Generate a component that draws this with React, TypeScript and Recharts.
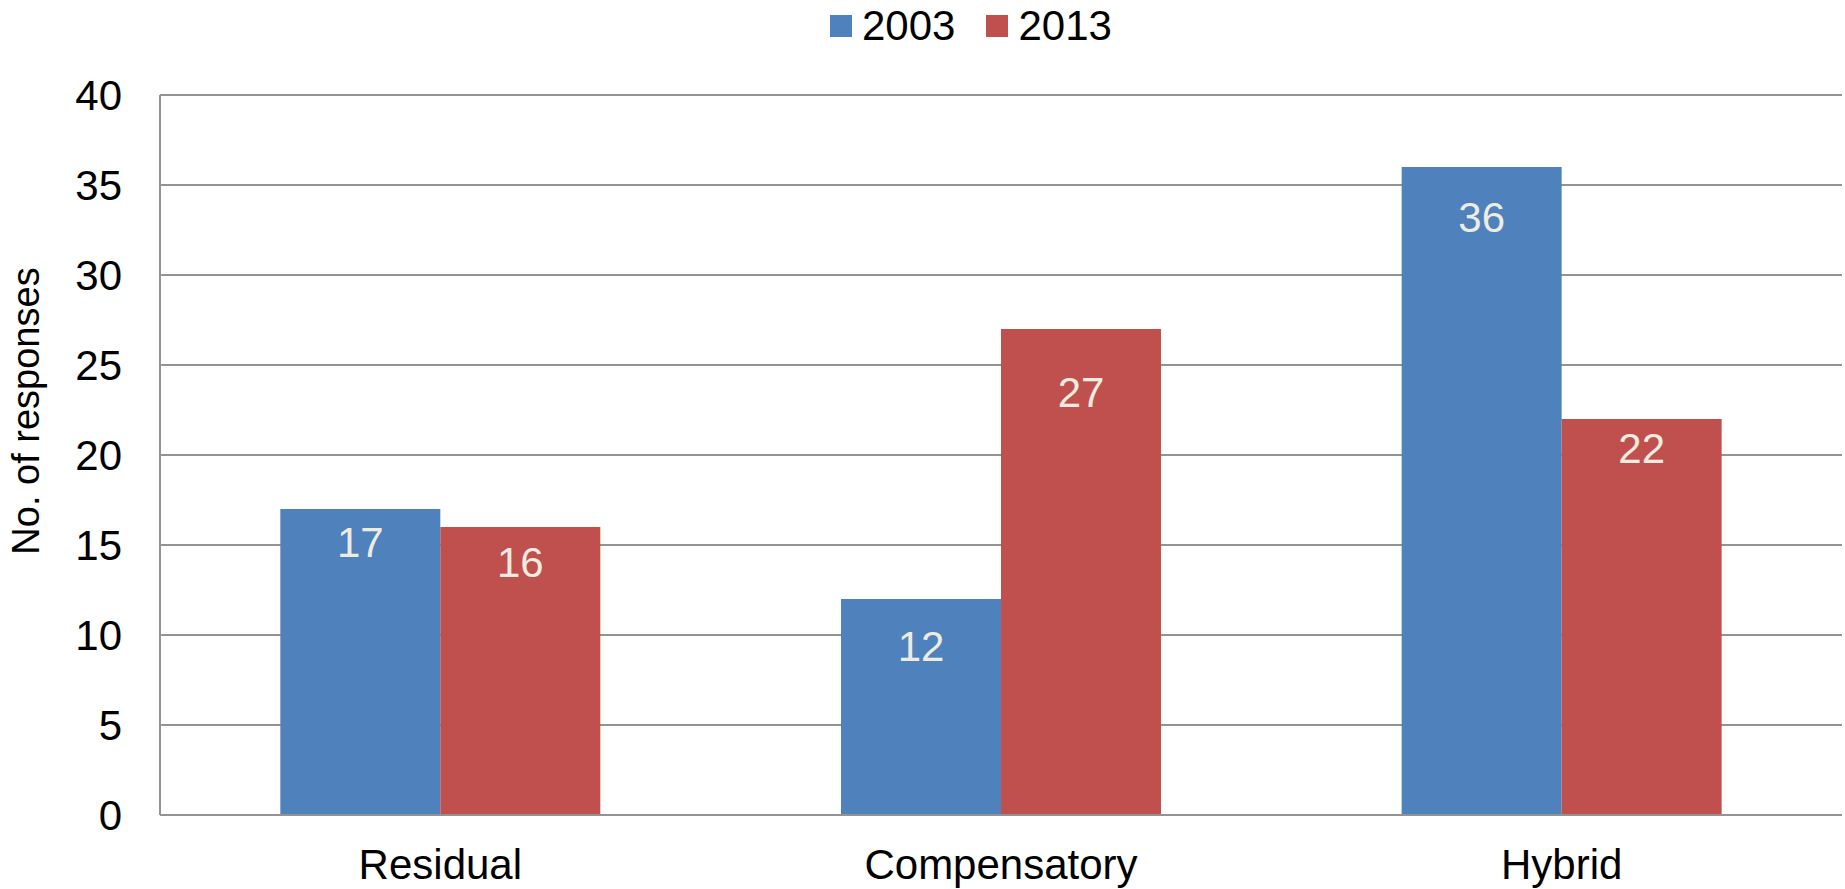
import React from "react";
import {
  BarChart,
  Bar,
  XAxis,
  YAxis,
  CartesianGrid,
  Legend,
  LabelList,
} from "recharts";

// ---- data ----
const categories = ["Residual", "Compensatory", "Hybrid"];
const values2003 = [17, 12, 36];
const values2013 = [16, 27, 22];
const seriesNames = ["2003", "2013"];
const yTicks = [0, 5, 10, 15, 20, 25, 30, 35, 40];

// ---- styling ----
const COLORS = ["#4F81BD", "#C0504D"];
const LABEL_COLOR = "#EEECE1";
const GRID_COLOR = "#939393";
const FONT = "'Liberation Sans', Arial, sans-serif";
const FS = 42;
// per-label vertical offset (px below the bar top), matching the reference placement
const LABEL_OFFSETS_2003 = [18, 32, 35];
const LABEL_OFFSETS_2013 = [20, 48, 14];

const data = categories.map((c, i) => ({
  name: c,
  s2003: values2003[i],
  s2013: values2013[i],
}));

const makeLabel = (offsets: number[]) => (props: any) => {
  const { x, y, width, value, index } = props;
  return (
    <text
      x={Number(x) + Number(width) / 2}
      y={Number(y) + offsets[index]}
      dy="0.71em"
      textAnchor="middle"
      fill={LABEL_COLOR}
      fontSize={FS}
      fontFamily={FONT}
    >
      {value}
    </text>
  );
};

const LegendContent = () => (
  <div
    style={{
      display: "flex",
      alignItems: "flex-start",
      fontFamily: FONT,
      fontSize: FS,
      lineHeight: "52px",
      color: "#000",
      whiteSpace: "nowrap",
    }}
  >
    {seriesNames.map((n, i) => (
      <div
        key={n}
        style={{ display: "flex", alignItems: "flex-start", marginLeft: i === 0 ? 0 : 31 }}
      >
        <span
          style={{
            display: "inline-block",
            width: 22,
            height: 22,
            marginTop: 15,
            marginRight: 10,
            background: COLORS[i],
          }}
        />
        <span>{n}</span>
      </div>
    ))}
  </div>
);

const YLabel = () => (
  <text
    x={39}
    y={411}
    transform="rotate(-90 39 411)"
    textAnchor="middle"
    fill="#000"
    fontSize={38}
    fontFamily={FONT}
  >
    No. of responses
  </text>
);

export default function App() {
  return (
    <div style={{ position: "absolute", left: 0, top: 0, background: "#fff" }}>
      <BarChart
        width={1845}
        height={889}
        data={data}
        margin={{ top: 95, right: 3, bottom: 0, left: 0 }}
        barCategoryGap="21.46%"
        barGap={0}
      >
        <CartesianGrid
          vertical={false}
          stroke={GRID_COLOR}
          strokeWidth={2}
        />
        <XAxis
          dataKey="name"
          height={74}
          tickSize={0}
          tickLine={false}
          tickMargin={34}
          axisLine={{ stroke: GRID_COLOR, strokeWidth: 2 }}
          tick={{ fill: "#000", fontSize: FS, fontFamily: FONT }}
          interval={0}
        />
        <YAxis
          width={160}
          domain={[0, 40]}
          ticks={yTicks}
          interval={0}
          tickSize={0}
          tickLine={false}
          tickMargin={38}
          axisLine={{ stroke: GRID_COLOR, strokeWidth: 2 }}
          tick={{ fill: "#000", fontSize: FS, fontFamily: FONT }}
          label={{ content: () => <YLabel /> }}
        />
        <Legend
          verticalAlign="middle"
          align="center"
          layout="horizontal"
          wrapperStyle={{ left: 830, top: 0, width: 400, height: 52 }}
          content={() => <LegendContent />}
        />
        <Bar dataKey="s2003" name={seriesNames[0]} fill={COLORS[0]} isAnimationActive={false}>
          <LabelList dataKey="s2003" content={makeLabel(LABEL_OFFSETS_2003)} />
        </Bar>
        <Bar dataKey="s2013" name={seriesNames[1]} fill={COLORS[1]} isAnimationActive={false}>
          <LabelList dataKey="s2013" content={makeLabel(LABEL_OFFSETS_2013)} />
        </Bar>
      </BarChart>
    </div>
  );
}
